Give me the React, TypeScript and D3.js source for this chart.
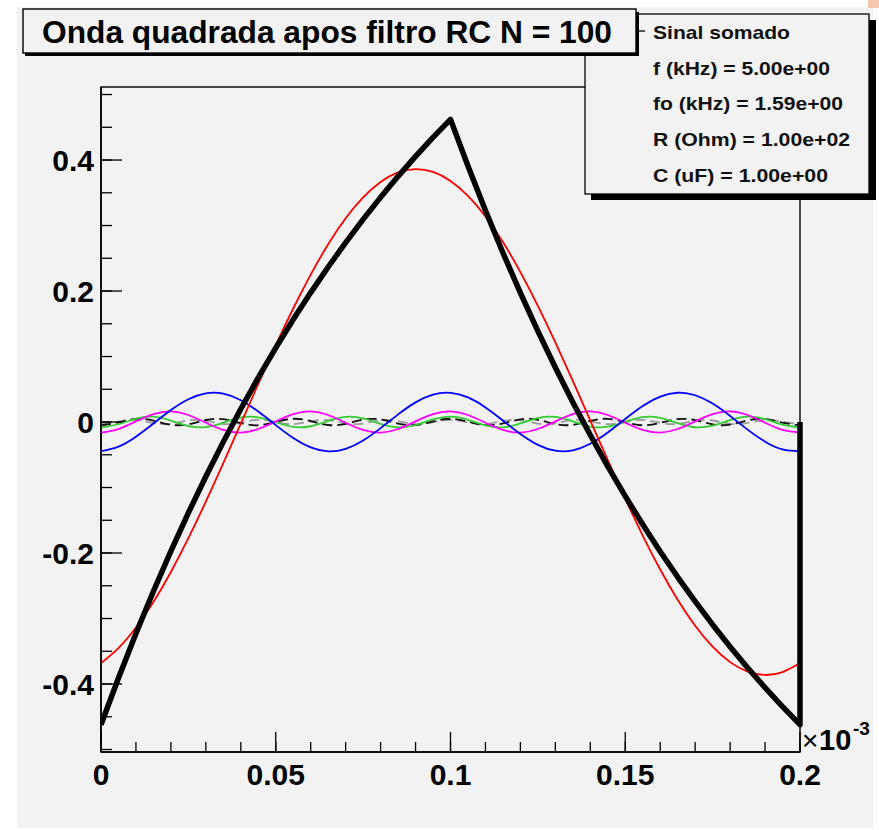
import React from "react";
import * as d3 from "d3";

// ---------- data ----------
// time axis, in units of 10^-3 s
const time = [
  0, 0.005, 0.01, 0.015, 0.02, 0.025, 0.03, 0.035, 0.04, 0.045,
  0.05, 0.055, 0.06, 0.065, 0.07, 0.075, 0.08, 0.085, 0.09, 0.095,
  0.1, 0.105, 0.11, 0.115, 0.12, 0.125, 0.13, 0.135, 0.14, 0.145,
  0.15, 0.155, 0.16, 0.165, 0.17, 0.175, 0.18, 0.185, 0.19, 0.195, 0.2,
];

// summed signal (thick black)
const sumValues = [
  -0.4621, -0.3908, -0.323, -0.2584, -0.1971, -0.1387, -0.0832, -0.0303, 0.0199, 0.0677,
  0.1132, 0.1565, 0.1976, 0.2367, 0.2739, 0.3094, 0.343, 0.3751, 0.4056, 0.4346,
  0.4621, 0.3908, 0.323, 0.2584, 0.1971, 0.1387, 0.0832, 0.0303, -0.0199, -0.0677,
  -0.1132, -0.1565, -0.1976, -0.2367, -0.2739, -0.3094, -0.343, -0.3751, -0.4056, -0.4346,
  -0.4621,
];
// last point of the summed graph
const sumTailTime = 0.2;
const sumTailValue = 0.0;

// harmonic 1 (red)
const h1 = [
  -0.368, -0.3451, -0.3138, -0.2747, -0.2289, -0.1774, -0.1215, -0.0627, -0.0023, 0.0581,
  0.1171, 0.1733, 0.2251, 0.2714, 0.311, 0.343, 0.3666, 0.3811, 0.3862, 0.3818,
  0.368, 0.3451, 0.3138, 0.2747, 0.2289, 0.1774, 0.1215, 0.0627, 0.0023, -0.0581,
  -0.1171, -0.1733, -0.2251, -0.2714, -0.311, -0.343, -0.3666, -0.3811, -0.3862, -0.3818,
  -0.368,
];
// harmonic 3 (blue)
const h3 = [
  -0.04453, -0.03753, -0.02235, -0.0023, 0.01826, 0.03483, 0.04381, 0.04324, 0.03324, 0.01601,
  -0.00472, -0.02443, -0.0388, -0.04472, -0.04089, -0.02815, -0.00927, 0.01163, 0.03, 0.04182,
  0.04453, 0.03753, 0.02235, 0.0023, -0.01826, -0.03483, -0.04381, -0.04324, -0.03324, -0.01601,
  0.00472, 0.02443, 0.0388, 0.04472, 0.04089, 0.02815, 0.00927, -0.01163, -0.03, -0.04182,
  -0.04453,
];
// harmonic 5 (magenta)
const h5 = [
  -0.01615, -0.01069, 0.00103, 0.01215, 0.01615, 0.01069, -0.00103, -0.01215, -0.01615, -0.01069,
  0.00103, 0.01215, 0.01615, 0.01069, -0.00103, -0.01215, -0.01615, -0.01069, 0.00103, 0.01215,
  0.01615, 0.01069, -0.00103, -0.01215, -0.01615, -0.01069, 0.00103, 0.01215, 0.01615, 0.01069,
  -0.00103, -0.01215, -0.01615, -0.01069, 0.00103, 0.01215, 0.01615, 0.01069, -0.00103, -0.01215,
  -0.01615,
];
// harmonic 7 (green)
const h7 = [
  -0.00825, -0.00341, 0.00516, 0.00809, 0.00219, -0.0061, -0.00773, -0.00092, 0.0069, 0.00718,
  -0.00038, -0.00753, -0.00646, 0.00166, 0.00797, 0.00557, -0.00291, -0.00821, -0.00455, 0.00408,
  0.00825, 0.00341, -0.00516, -0.00809, -0.00219, 0.0061, 0.00773, 0.00092, -0.0069, -0.00718,
  0.00038, 0.00753, 0.00646, -0.00166, -0.00797, -0.00557, 0.00291, 0.00821, 0.00455, -0.00408,
  -0.00825,
];
// harmonic 9 (black dashed)
const h9 = [
  -0.005, -0.00061, 0.00481, 0.00211, -0.00415, -0.00341, 0.00308, 0.00437, -0.00171, -0.00491,
  0.00018, 0.00496, 0.00138, -0.00453, -0.00279, 0.00366, 0.00394, -0.00243, -0.0047, 0.00096,
  0.005, 0.00061, -0.00481, -0.00211, 0.00415, 0.00341, -0.00308, -0.00437, 0.00171, 0.00491,
  -0.00018, -0.00496, -0.00138, 0.00453, 0.00279, -0.00366, -0.00394, 0.00243, 0.0047, -0.00096,
  -0.005,
];
// harmonic 11 (gray dashed)
const h11 = [
  -0.00335, 0.00062, 0.00315, -0.00161, -0.00265, 0.00244, 0.00189, -0.00303, -0.00094, 0.00332,
  -0.0001, -0.00329, 0.00113, 0.00294, -0.00205, -0.0023, 0.00277, 0.00143, -0.00321, -0.00043,
  0.00335, -0.00062, -0.00315, 0.00161, 0.00265, -0.00244, -0.00189, 0.00303, 0.00094, -0.00332,
  0.0001, 0.00329, -0.00113, -0.00294, 0.00205, 0.0023, -0.00277, -0.00143, 0.00321, 0.00043,
  -0.00335,
];

const xTicks = [0, 0.05, 0.1, 0.15, 0.2];
const xTickLabels = ["0", "0.05", "0.1", "0.15", "0.2"];
const yTicks = [-0.4, -0.2, 0, 0.2, 0.4];
const yTickLabels = ["-0.4", "-0.2", "0", "0.2", "0.4"];

const titleText = "Onda quadrada apos filtro RC N = 100";
const statsLines = [
  "Sinal somado",
  "f (kHz) = 5.00e+00",
  "fo (kHz) = 1.59e+00",
  "R (Ohm) = 1.00e+02",
  "C (uF) = 1.00e+00",
];
const statsWidths = [137, 177, 190, 197, 175];

// ---------- layout ----------
const W = 879;
const H = 830;
const plotL = 101;
const plotR = 800;
const plotT = 87;
const plotB = 752;
const BG = "#f2f2f2";
const FONT = "'Liberation Sans', Arial, Helvetica, sans-serif";

export default function App() {
  const x = d3.scaleLinear().domain([0, 0.2]).range([plotL, plotR]);
  const y = d3.scaleLinear().domain([-0.5038, 0.5115]).range([plotB, plotT]);

  const smooth = d3
    .line<[number, number]>()
    .x((d) => x(d[0]))
    .y((d) => y(d[1]))
    .curve(d3.curveNatural);
  const straight = d3
    .line<[number, number]>()
    .x((d) => x(d[0]))
    .y((d) => y(d[1]));

  const pts = (vals: number[]) => time.map((t, i) => [t, vals[i]] as [number, number]);
  const sumPts: [number, number][] = [...pts(sumValues), [sumTailTime, sumTailValue]];

  const harmonics = [
    { vals: h11, color: "#9a9a9a", width: 1.8, dash: "10,5" },
    { vals: h9, color: "#111111", width: 1.8, dash: "10,5" },
    { vals: h7, color: "#33cc33", width: 1.8, dash: undefined },
    { vals: h5, color: "#ff00ff", width: 1.8, dash: undefined },
    { vals: h3, color: "#0000ff", width: 1.8, dash: undefined },
    { vals: h1, color: "#ff0000", width: 1.8, dash: undefined },
  ];

  const xMinor = d3.range(0, 0.2001, 0.01);
  const yMinor = d3.range(-0.5, 0.5001, 0.05).filter((v) => y(v) <= plotB && y(v) >= plotT);

  return (
    <svg width={W} height={H} style={{ display: "block", position: "absolute", left: 0, top: 0 }}>
      <rect x={0} y={0} width={W} height={H} fill="#ffffff" />
      <rect x={17} y={7} width={856} height={821} fill={BG} />
      <rect x={868} y={0} width={11} height={8} fill="#f7c7ae" />

      {/* frame */}
      <rect x={plotL} y={plotT} width={plotR - plotL} height={plotB - plotT} fill={BG} stroke="#000" strokeWidth={1.4} />

      {/* harmonic curves */}
      <g clipPath="url(#clip)">
        {harmonics.map((h, i) => (
          <path
            key={i}
            d={smooth(pts(h.vals)) || ""}
            fill="none"
            stroke={h.color}
            strokeWidth={h.width}
            strokeDasharray={h.dash}
          />
        ))}
        <path d={straight(sumPts) || ""} fill="none" stroke="#000" strokeWidth={5.5} strokeLinejoin="round" />
      </g>
      <defs>
        <clipPath id="clip">
          <rect x={plotL} y={plotT - 5} width={plotR - plotL + 4} height={plotB - plotT + 5} />
        </clipPath>
      </defs>

      {/* x axis */}
      <line x1={plotL} x2={plotR} y1={plotB} y2={plotB} stroke="#000" strokeWidth={1.6} />
      {xMinor.map((v, i) => (
        <line key={"xm" + i} x1={x(v)} x2={x(v)} y1={plotB} y2={plotB - 10} stroke="#000" strokeWidth={1.3} />
      ))}
      {xTicks.map((v, i) => (
        <g key={"xt" + i}>
          <line x1={x(v)} x2={x(v)} y1={plotB} y2={plotB - 20} stroke="#000" strokeWidth={1.3} />
          <text x={x(v)} y={785} textAnchor="middle" fontFamily={FONT} fontWeight="bold" fontSize={30} fill="#000">
            {xTickLabels[i]}
          </text>
        </g>
      ))}
      <text x={802} y={750} fontFamily={FONT} fontSize={28} fill="#000">
        ×
      </text>
      <text x={819} y={750} fontFamily={FONT} fontWeight="bold" fontSize={29} fill="#000">
        10
      </text>
      <text x={853} y={735} fontFamily={FONT} fontWeight="bold" fontSize={19} fill="#000">
        -3
      </text>

      {/* y axis */}
      <line x1={plotL} x2={plotL} y1={plotT} y2={plotB} stroke="#000" strokeWidth={1.6} />
      {yMinor.map((v, i) => (
        <line key={"ym" + i} x1={plotL} x2={plotL + 11} y1={y(v)} y2={y(v)} stroke="#000" strokeWidth={1.3} />
      ))}
      {yTicks.map((v, i) => (
        <g key={"yt" + i}>
          <line x1={plotL} x2={plotL + 21} y1={y(v)} y2={y(v)} stroke="#000" strokeWidth={1.3} />
          <text x={94} y={y(v) + 11} textAnchor="end" fontFamily={FONT} fontWeight="bold" fontSize={30} fill="#000">
            {yTickLabels[i]}
          </text>
        </g>
      ))}

      {/* stats box */}
      <rect x={591} y={20} width={285} height={180} fill="#000" />
      <rect x={585} y={14} width={284} height={180} fill={BG} stroke="#000" strokeWidth={1.3} />
      {statsLines.map((s, i) => (
        <text
          key={"s" + i}
          x={653}
          y={39 + i * 35.7}
          fontFamily={FONT}
          fontWeight="bold"
          fontSize={19}
          fill="#111"
          textLength={statsWidths[i]}
          lengthAdjust="spacingAndGlyphs"
        >
          {s}
        </text>
      ))}
      <line x1={637} x2={645} y1={31} y2={31} stroke="#000" strokeWidth={1.3} />

      {/* title box */}
      <rect x={25} y={12} width={614} height={44} fill="#000" />
      <rect x={23} y={9} width={613} height={44} fill={BG} stroke="#000" strokeWidth={1.4} />
      <text
        x={42}
        y={43}
        fontFamily={FONT}
        fontWeight="bold"
        fontSize={31}
        fill="#000"
        textLength={570}
        lengthAdjust="spacingAndGlyphs"
      >
        {titleText}
      </text>
    </svg>
  );
}
